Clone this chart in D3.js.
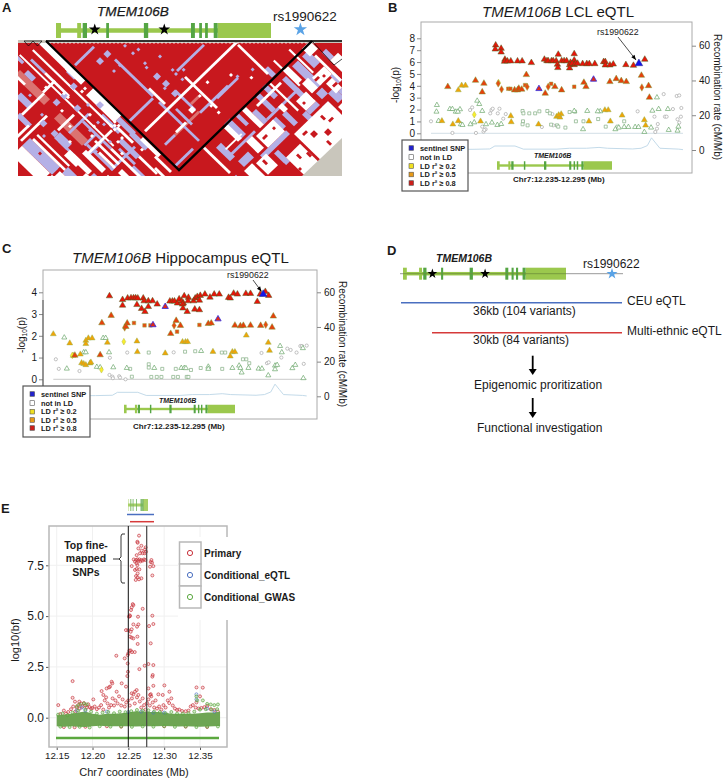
<!DOCTYPE html>
<html><head><meta charset="utf-8">
<script src="https://cdnjs.cloudflare.com/ajax/libs/d3/7.8.5/d3.min.js"></script>
<style>html,body{margin:0;padding:0;background:#fff}svg{display:block}text{font-family:"Liberation Sans",Arial,sans-serif;fill:#1a1a1a}</style>
</head><body><div id="c"></div>
<script>
// ---------- gene model (kb from gene start)
const geneLength = 27.4;
const lightExons = [[0,.64],[2.7,3.2],[20.6,27.4]];
const darkExons = [[3.4,3.95],[6.4,6.75],[11.2,11.75],[17.2,17.7],[18.25,18.6],[19,19.35],[20.1,20.6]];
const geneStars = [4.94,13.8];
const rsPos = 31.15;
// ---------- panel A: LD matrix, rectangles in SNP index space [i0,i1,j0,j1]
const ldPale = [[-17,-14,1,16],[-18,-15,22,36],[8,20,56,57],[20,24,52,53]];
const ldLavender = [[1,10.5,13,14],[12,13,22,41],[0,12,41,42],[12,13,44,64],[25,38.5,40,41],[3,8,56,57],[20,34,56.5,57.5],[28,38.5,57,58],[19,20,45,55],[14.5,15.5,50,58],[0.2,9,64,65],
 [-22,-19.5,7,13],[-12,-10.8,-4,0],[-3,-2,13,17],[-33,-29,21,36],[-23,-20,27,33],[-8,-6,44,53],[-14,-12,3,7],[-6,-4.5,33,42],[-3,-1,38,46],[-12,-11,30,44],[-27,-25,12,18],[-17,-16,37,50],[-10,-9,46,54],
 [-18,-8,29,30],[-23,-22,29,36],[-17.3,-11.5,36,37],[-3.5,-1.5,45,53],[-17,-5,49,50],[-19,-12,39.5,40.5],[-30,-27,38,46],[-9,-8,1,8],[-26,-23,4,8],[-31,-28,10,14],[-24,-22,46,52],[-12,-10,54,60],
 [55,58,68,80],[49,51,69,81],[24,37,83,85],[23,26,66,74],[28,29.5,67,72],[15,17.5,70,77],[57,60,84,89],[38,40,67,75],[60,63,68,74],[33,35,70,76],[40,42,78,84],[17,22,79,82],[28,30,86,92],[62,64,80,84],[45,47,83,90],[52,55,86,90],
 [35,51,75,76],[17,29,75,76],[47,49,62,66],[42,44,66,72],[36,38,77,82],[47,52,83,85],[54,57,81,84],[60,64,86,92],[10,13,82,88],[66,68,72,76]];
const ldWhite = [[-2.5,0,-2,14],[-2.5,0,12,20],[-4,0,24,38],[-6,-5.2,-1,39],[-10.5,-9.8,-3,44],[-14,-8,12,13],[-25,-14,12.5,13.5],[-32,-19,19,20],[-38,-33,21,35],[-29,-28,22,38],[-2,-.5,49,58],[-5,-4,40,48],[-14,-13,38,50],[-20,-18,38,48],[-25,-22,34,40],[-34,-30,37,42],
 [-20,-12,25.5,26.5],[-32,-26,17,18],[-26.8,-26,22,38],[-19,-6.5,39,40],[-16,-15,42,50],[-3,-2,57,65],[-24,-22,36,45],[-12,-11,44,60],[-7,-6,53,62],[-30,-24,44,50],[-36,-33,36,46],[-20,-19,50,58],[-16,-14,52,60],[-6,-5,60,66],[-9,-8,8,20],[-17,-16,2,6],
 [1.5,48,47.5,48.5],[46.5,47.5,49,64],[9,14,55.5,56.5],[13,14,38,46],[25,26,44,60],[51.5,52.3,62,75],[58.2,59,63,75],[63,64,71,84],[36,48,69,70],[17,25,72.5,73.2],
 [11.5,12.5,67,80],[44.7,45.5,67,81],[28,36.5,77,83],[57,63,76,80],[47,52,78,83],[38,55,86,100],[21,26,84,90],[31,33,67,76],[52,54,67,74],[59,62,81,86],[24,27,76,82],[62,66,66,70],[16,20,83,90],[66,70,76,100],[56,60,90,100],[30,37,90,100],[22,24,67,74],[53,56,75,80],[41,43,75,78]];
const ldRedPatches = [[42,44,90,92],[46,48,93,95],[49,50,88,90],[33,34,92,94],[60,61,78,79],[52,53,80,82],[27,28,91,93],[30,31,96,97],[-30,-29,36,38],[-31,-30,27,28],[55,57,92,94],[40,42,88,89],[50,52,91,92],[44,45,96,98],[36,37,94,96],[23,24,85,87],[48,49,80,81],[57,59,77,78],[60,62,83,84],[34,35,79,80],[29,31,79,80]];
const ldLavCells = [[24.5,32.5,1],[19,30.5,1],[18.3,32,1],[18.6,36.9,2],[19,41,2],[18.75,45.75,2],[8.3,18.7,2],[12,18.7,2],[9.25,24.75,1],[12.25,24.75,1],[18.5,21,1],[20.9,25.3,1],[18.6,24.9,1],[24.2,39.1,1],[27,41.8,1],[24.2,44,1],[24,41,1],[17.5,41.9,1],[44.3,59,1],[38.75,57,1],[-13.2,18.5,2],[-9.6,18.75,2],[-4.75,18.6,2],[-9.5,25.2,2],[-21.9,20.6,2],[-21.7,26,2],[-21.5,31,2],[-6,27,1],[-8,34,1],[-12,34,1],[-3,30,2],[-16,41,1],[-10,42,1],[-7,36,1],[-25,24,1],[-18,10,1],[-20,18,1]];
const ldWhiteCells = [[24.3,52.6,1],[24.75,61.6,1],[41.9,60.8,1],[37.5,55,1],[24.6,58,1],[18.75,54.3,2],[29.75,51,1],[-4.6,39,1],[-5.6,40,1],[-3.6,40,1],[-5.6,38,1],[-3.6,38,1],[-9,18,1],[-9,20,1],[-12,12,1],[-2.5,22,1],[-4,22,1],[-8,30,1],[-10,34,1],[-13,36,1],[-6,44,1],[-8,44,1],[-10,48,1],[-4,52,1],[-20,32,1],[-14,22,1],[-16,28,1]];
// ---------- panel B: (kb from 12.235 Mb, -log10 p)
const bRedTri = [[15.4,7.42],[15.3,7.08],[16.7,7.14],[16.7,6.83],[17.6,6.22],[17.5,6.05],[18.2,6.08],[19,6.08],[20.6,6.08],[21.7,6.08],[23.9,5.94],[27,6.22],[27.6,6.1],[27.9,6.1],[28.7,6.1],[29.1,6.1],[29.8,6.1],[30.3,6.64],[30.1,5.8],[30.2,5.52],[31.1,6.1],[31.7,6.1],[32.3,6.1],[33.2,5.96],[34.1,6.69],[34.1,6.16],[33,5.77],[33,5.49],[34.1,5.77],[33.6,5.88],[34.4,5.88],[34.9,5.88],[36.1,5.85],[37.1,5.85],[37.7,5.85],[39,5.85],[41.1,6.02],[41.5,6.02],[41.5,5.74],[42.6,5.74],[43.4,5.82],[46.4,5.77],[48.2,5.71],[50.9,6.22]];
const bSentinel = [[49.5,5.88]];
const bMidTri = [[22.7,4.93],[4,3.92],[10.6,4.45],[12.6,4.2],[12.2,3.47],[19.9,3.64],[20.6,3.64],[20.9,3.78],[21.6,3.7],[29.5,3.92],[27.2,3.36],[31.1,3.64],[36.4,4.28],[36.9,3.92],[42.6,4.34],[44.1,4.59],[45.3,4.42],[46.5,4.34],[50.1,4.87],[51.8,4],[52,3.02]];
const bMidSquare = [[18.4,3.75],[18.9,3.75],[22.4,4.06],[28.6,4.17],[34.1,3.92]];
const bMidDiamond = [[16,4.2],[16.8,3.7],[27.9,3.92],[50.2,3.86],[22.9,3.92]];
const bBlueTri = [[25.7,3.75],[38.7,4.54]];
const bAmberTri = [[6.5,3.64],[7.3,4.03],[8.2,4.03],[2.6,1.04],[5.2,.76],[6.5,1.04],[11.8,1.01],[19,1.46],[19.1,.95],[25.6,.76],[31,1.62],[29.9,1.4],[30.7,1.34],[30.4,1.54],[37.6,1.01],[41.4,1.96],[42.2,1.96],[45.5,1.51],[42.7,1.01],[50.8,1.12],[51.1,.67]];
const bYellow = [[10.3,1.57],[16.1,4.26]];
const bOpenTri = [[1.4,2.38],[1.3,1.82],[1.8,1.04],[11,2.74],[11.5,2.46],[12.2,1.88],[4.5,2.04],[5.1,2.04],[5.9,1.82],[6.9,2.02],[6.4,1.82],[7.1,.76],[7.5,.7],[9.4,.76],[10.3,.92],[13.1,.76],[14.5,.9],[15.8,.7],[16.7,.78],[37.2,1.88],[34.1,1.88],[40.3,1.85],[39.7,1.85],[36.2,.34],[43.9,.34],[44.7,.48],[46,.53],[47,.53],[48.6,.53],[49.4,.53],[52.7,1.9],[54.2,2.04],[56.4,2.04],[53.8,3.02],[52.4,.48],[56.6,.28],[58.7,.22],[58.9,.56],[50.8,.11]];
const bOpenSquare = [[21.8,1.88],[22,1.68],[23.4,1.68],[24.8,1.68],[25.8,1.85],[27.7,1.88],[28.3,1.68],[33,1.79],[34.3,1.82],[21.9,1.01],[21.8,.76],[23,.67],[30,.67],[30.3,.56],[32,.48],[34.5,1.01],[36.3,1.01],[39.8,1.2],[41.6,.56],[44.4,.56],[46,1.01],[28.6,.73]];
const bGrey = [[0,1.01],[5.1,.03],[10.7,.03],[9.3,1.96],[9.8,2.18],[14.4,1.96],[14.7,2.07],[14.1,1.68],[16.3,2.07],[15.9,1.68],[17.8,1.62],[17.2,1.23],[12.2,.56],[13,.34],[12.5,.14],[12.7,.28],[26.4,.53],[29.1,.67],[28.9,1.62],[49.2,1.85],[53.2,1.4],[55.7,1.4],[56.1,1.4],[57.6,2.04],[55.4,3.3],[58.5,3.14],[59.1,3.19],[59.6,2.13],[54,.78],[53.8,.39],[53.4,.11],[59.1,.9],[58.7,1.18],[59.5,1.4]];
// ---------- panel C
const cRedTri = [[13.3,3.83],[16.4,3.66],[16.4,3.4],[17.6,3.73],[18.4,3.74],[19,3.74],[19.5,3.74],[20,3.73],[21.3,3.73],[21.5,3.6],[22.5,3.6],[23.5,3.6],[19.8,3.43],[22.5,3.34],[20.9,3.25],[21.7,3.11],[24.6,3.45],[27.6,3.59],[28.2,3.59],[28.7,3.59],[29.4,3.5],[29.8,3.69],[30.4,3.59],[31,3.83],[32,3.76],[30.8,3.5],[31.9,3.6],[33.2,3.6],[33.6,3.73],[34.1,3.8],[34.8,3.85],[35.9,3.91],[34.6,3.63],[30.6,3.45],[30.7,3.27],[31.7,3.11],[33.5,3.22],[34.6,3.19],[37.1,3.77],[38.1,3.91],[39.3,3.91],[41.5,3.76],[41.9,3.73],[42.7,3.95],[43.6,3.91],[45.6,3.94],[46.7,3.94],[48.3,3.57],[50.2,4.03],[51,3.85],[49,3.91]];
const cSentinel = [[49.7,3.91]];
const cBlueTri = [[26.5,3.34],[39,2.77],[23.6,2.5]];
const cMidTri = [[11.5,2.59],[13.7,2.93],[5.1,1.1],[11.1,1.12],[17.5,2.58],[17.2,2.42],[29.1,2.7],[30.1,2.47],[27.8,2.1],[43,2.48],[44.3,2.45],[45,2.47],[46.7,2.48],[49.1,2.47],[51.8,2.39],[52.1,2.9],[36.7,2.56],[37.4,2.58]];
const cMidSquare = [[19.1,2.59],[21.6,2.48],[23,2.48],[34.6,2.5],[29.3,2.19]];
const cMidDiamond = [[28.6,2.47],[50.3,2.51],[16.9,2.38]];
const cAmberTri = [[0,2.08],[3.9,1.66],[8.3,1.89],[9.2,1.89],[7.7,1.78],[7.7,1.63],[12.8,1.69],[19.8,1.75],[30.6,1.72],[31.3,1.72],[31.8,1.72],[45.7,2.02],[50.9,1.69],[51.2,1.32],[19.9,1.26],[26.5,1.2],[37.8,1.27],[42.4,1.26],[43,1.26],[41.9,1.06],[6.4,1.15],[4.7,1.09],[6.7,.75],[7.2,.71],[7.7,.66],[8.7,.74],[8.9,.78]];
const cYellow = [[16.7,1.73],[11.4,.44],[4.5,1.1]];
const cOpenTri = [[2.6,1.92],[11.8,1.9],[12.4,1.9],[7.2,1.24],[7.7,1.24],[13.2,1.24],[3.2,.49],[10.3,.57],[11.1,.55],[14.2,.55],[17.4,.52],[23.9,.52],[30.3,.52],[31,.52],[31.4,.51],[35,1.3],[36.7,.58],[36.7,.48],[42.4,.52],[44,.63],[44.3,.52],[44.6,.31],[46.2,.52],[48.6,.49],[49.4,.49],[52.5,.63],[52.5,.46],[53,.66],[54.1,1.24],[53.7,1.53],[59.1,1.43],[56.6,.51],[57.3,.66],[50.9,.18],[59.2,.05]];
const cOpenSquare = [[22.6,1.23],[31.2,1.27],[33.6,1.29],[39.9,1.23],[40.7,1.23],[25.8,.48],[22.6,.69],[22.6,.54],[32.6,.43],[34.9,.52],[40,.48],[23.2,.11],[24.5,.11],[25.6,.11],[28.4,.11],[29.5,.11],[31.6,.11],[32,.11],[18.2,.48],[18.6,.12],[29,.48],[44.9,.92],[45.7,.92],[46.4,.74]];
const cGrey = [[.6,.92],[1.3,.48],[6.2,.38],[13.4,.99],[13.3,.2],[14,.12],[14.1,.05],[15.6,.14],[15.8,.08],[17.1,0],[17.5,1.23],[28.5,1.24],[49.3,1.21],[50.6,.74],[51,.78],[54,1],[55.4,1.41],[56.2,1.35],[57.6,1.23],[58.5,1.53],[58.9,1.53],[60,1.55],[59.3,.71]];
// recombination rate (kb, cM/Mb)
const recomb = [[0,.2],[10,.4],[14,.6],[15.2,2.3],[20,2.3],[22,.5],[30,.5],[33,1],[37,1],[40,1.5],[42,1],[48,.6],[50,1],[51.5,2.5],[52.5,7],[53.5,4],[54.5,1],[59,.5],[60,.2]];
const legendLabels = ["sentinel SNP","not in LD","LD r² ≥ 0.2","LD r² ≥ 0.5","LD r² ≥ 0.8"];
const legendFills = ["#2222cc","#ffffff","#f0e020","#e89a18","#cc1f1a"];
// ---------- panel E: (Mb, log10 bf)
const ePeak = [[12.2649,8.96],[12.2626,8.66],[12.263,8.61],[12.2682,8.46],[12.264,8.33],[12.2686,8.22],[12.2733,8.28],[12.2742,8.38],[12.2663,8.09],[12.27,8.09],[12.2728,8.09],[12.2747,8.17],[12.2616,8],[12.2575,7.79],[12.2607,7.76],[12.2626,7.79],[12.264,7.73],[12.2654,7.79],[12.2668,7.69],[12.2682,7.76],[12.27,7.73],[12.2719,7.79],[12.2738,7.76],[12.2593,7.68],[12.2616,7.6],[12.2626,7.51],[12.2547,7.46],[12.2593,7.27],[12.2616,7.32],[12.2654,7.3],[12.263,7.1],[12.2607,6.97],[12.263,6.91],[12.2682,6.86],[12.2603,6.78],[12.2649,6.81],[12.2822,7.76],[12.2812,7.66],[12.2831,7.63],[12.2803,7.43],[12.2849,7.46],[12.2835,7],
 [12.2561,5.59],[12.257,5.54],[12.2547,5.43],[12.2537,5.3],[12.27,5.36],[12.2519,5.04],[12.2509,4.97],[12.2523,5],[12.2835,5.02],[12.2635,4.97],[12.2849,4.61],[12.257,4.59],[12.264,4.59],[12.2621,4.48],[12.2789,4.51],[12.2467,4.31],[12.25,4.31],[12.2533,4.23],[12.2547,4.35],[12.2626,3.99],[12.2547,3.94],[12.257,3.9],[12.2523,3.99],[12.263,3.63],[12.2812,3.66],[12.2514,3.3],[12.2533,3.31],[12.2551,3.23],[12.2589,3.23],[12.2332,3.05],[12.2449,2.92],[12.2491,3.08],[12.25,3.17],[12.278,2.64],[12.2849,2.59],[12.2728,2.56],[12.2654,2.39],[12.2491,2.67],[12.284,2.1],[12.2835,2.02],[12.2495,2.26],[12.2486,2.05],[12.1722,1.8],[12.3003,1.59],[12.2849,1.57],[12.3451,1.49],[12.3539,1.48],[12.2127,1.31],[12.2197,1.44],[12.2244,1.53],[12.2267,1.77],[12.2276,1.69],[12.223,1.49],[12.2407,1.69],[12.2467,1.53],[12.2616,1.36],[12.278,1.44],[12.2812,1.16],[12.2803,1.12],[12.3073,1.28],[12.2919,1.15],[12.298,1.12],[12.2593,1.28],[12.2547,1.2],[12.2337,1.28],[12.2151,1.12],[12.2011,.9],[12.1522,.62],[12.1722,.98],[12.1755,.79],[12.1815,.79]];
const eRedLow = [[12.155,.18],[12.16,.35],[12.163,.2],[12.166,.28],[12.17,.42],[12.173,.55],[12.176,.3],[12.178,.5],[12.18,.62],[12.182,.45],[12.184,.7],[12.186,.55],[12.188,.72],[12.19,.6],[12.192,.5],[12.194,.66],[12.196,.52],[12.198,.45],[12.2,.48],[12.203,.55],[12.206,.42],[12.209,.5],[12.212,.62],[12.215,.4],[12.217,.85],[12.219,1],[12.221,.7],[12.223,.5],[12.226,.62],[12.228,.95],[12.23,.6],[12.232,.85],[12.235,.7],[12.237,1.05],[12.24,.6],[12.242,.9],[12.245,.55],[12.247,.75],[12.25,.85],[12.252,.6],[12.255,.95],[12.257,1.15],[12.259,.7],[12.262,1],[12.264,1.12],[12.266,.8],[12.268,.5],[12.27,.95],[12.272,.62],[12.274,.4],[12.276,.72],[12.278,.9],[12.28,.6],[12.282,1.05],[12.284,.75],[12.286,.5],[12.288,.85],[12.29,.45],[12.293,.55],[12.296,.4],[12.299,.62],[12.302,.5],[12.305,.85],[12.307,.72],[12.31,.95],[12.312,.6],[12.315,.45],[12.318,.38],[12.321,.4],[12.325,.33],[12.33,.32],[12.334,.35],[12.337,.55],[12.34,.62],[12.344,.5],[12.348,.45],[12.352,.48],[12.356,.52],[12.36,.58],[12.365,.42],[12.37,.38],[12.375,.3],[12.345,.75],[12.35,1.05],
 [12.16,-.46],[12.175,-.47],[12.19,-.45],[12.22,-.42],[12.24,-.44],[12.3,-.42],[12.33,-.44],[12.36,-.46]];
const eBlue = [[12.185,.5],[12.19,.35],[12.25,.28],[12.268,.3],[12.285,.25],[12.3,.25],[12.345,1.15],[12.345,.9],[12.37,.3],[12.36,.45],[12.22,.3],[12.178,.35]];
const eGreen = [[12.345,1.05],[12.346,.85],[12.354,.85],[12.36,.68],[12.365,.65],[12.37,.62],[12.375,.65],[12.178,.55],[12.182,.65],[12.188,.7],[12.192,.65],[12.152,.15],[12.158,.2],[12.165,.12],[12.172,.25],[12.18,.35],[12.19,.4],[12.198,.3],[12.206,.2],[12.214,.25],[12.222,.28],[12.23,.22],[12.238,.3],[12.246,.27],[12.254,.32],[12.262,.38],[12.27,.35],[12.278,.36],[12.286,.3],[12.294,.28],[12.302,.22],[12.31,.28],[12.318,.2],[12.326,.2],[12.334,.22],[12.342,.3],[12.35,.4],[12.358,.42],[12.366,.4],[12.374,.42],[12.155,-.44],[12.168,-.46],[12.182,-.45],[12.196,-.48],[12.21,-.42],[12.225,-.44],[12.24,-.43],[12.255,-.45],[12.27,-.43],[12.285,-.44],[12.3,-.42],[12.315,-.45],[12.33,-.43],[12.345,-.46],[12.36,-.44],[12.375,-.43]];
const bandMb = [12.15,12.16,12.17,12.18,12.19,12.2,12.21,12.22,12.23,12.24,12.25,12.26,12.27,12.28,12.29,12.3,12.31,12.32,12.33,12.34,12.35,12.36,12.37,12.378];
const bandTop = [.12,.15,.2,.25,.3,.2,.15,.2,.2,.22,.25,.32,.3,.28,.28,.25,.2,.2,.2,.2,.22,.25,.25,.3];
const bandBottom = [-.42,-.44,-.42,-.45,-.46,-.42,-.4,-.42,-.42,-.42,-.42,-.43,-.42,-.42,-.42,-.41,-.42,-.43,-.42,-.43,-.44,-.43,-.42,-.41];
const eLegend = [["Primary","#c8323c"],["Conditional_eQTL","#4a6fc0"],["Conditional_GWAS","#5ba83f"]];

// ---------- drawing
const svg = d3.select("#c").append("svg").attr("width",723).attr("height",780);
const FONT = '"Liberation Sans",Arial,sans-serif';
function T(g,x,y,s,o={}){const t=g.append("text").attr("x",x).attr("y",y).attr("font-size",o.size||10).text(s);
  if(o.bold)t.attr("font-weight","bold"); if(o.italic)t.attr("font-style","italic"); if(o.anchor)t.attr("text-anchor",o.anchor); if(o.rotate!==undefined)t.attr("transform",`rotate(${o.rotate} ${x} ${y})`); return t;}
const LIGHT="#9bc84d",DARK="#55a544";
function gene(g,x0,x1,yMid,barH,exH){
  const s=d3.scaleLinear([0,geneLength],[x0,x1]);
  g.append("rect").attr("x",s(0)).attr("y",yMid-barH/2).attr("width",s(geneLength)-s(0)).attr("height",barH).attr("fill",LIGHT);
  g.selectAll(null).data(lightExons).join("rect").attr("x",d=>s(d[0])).attr("width",d=>s(d[1])-s(d[0])).attr("y",yMid-exH/2).attr("height",exH).attr("fill",LIGHT);
  g.selectAll(null).data(darkExons).join("rect").attr("x",d=>s(d[0])).attr("width",d=>Math.max(s(d[1])-s(d[0]),.8)).attr("y",yMid-exH/2).attr("height",exH).attr("fill",DARK);
  return s;
}
function star(g,x,y,size,fill){g.append("path").attr("d",d3.symbol(d3.symbolStar,size)()).attr("transform",`translate(${x},${y})`).attr("fill",fill);}

// panel labels
[["A",2,12],["B",388,12],["C",2,253],["D",387,255],["E",1,513]].forEach(d=>T(svg,d[1],d[2],d[0],{size:13,bold:true}));

// ===== panel A
(function(){
  const clip=svg.append("clipPath").attr("id","clipA");clip.append("rect").attr("x",18).attr("y",43).attr("width",324).attr("height",133);
  const m=svg.append("g").attr("clip-path","url(#clipA)");
  m.append("rect").attr("x",18).attr("y",43).attr("width",324).attr("height",133).attr("fill","#c8181e");
  const sx=d3.scaleLinear([0,133],[46,312]),sy=d3.scaleLinear([0,66.5],[41,170]);
  const pt=(i,j)=>[sx(i+j),sy(j-i)].join(",");
  const rectPath=d=>`M${pt(d[0],d[2])}L${pt(d[1],d[2])}L${pt(d[1],d[3])}L${pt(d[0],d[3])}Z`;
  const cell=d=>{const h=d[2]/2;return rectPath([d[0]-h,d[0]+h,d[1]-h,d[1]+h]);};
  m.selectAll(null).data(ldPale).join("path").attr("d",rectPath).attr("fill","#e08b86").attr("opacity",.8);
  m.selectAll(null).data(ldLavender).join("path").attr("d",rectPath).attr("fill","#b4b0e6");
  m.selectAll(null).data(ldWhite).join("path").attr("d",rectPath).attr("fill","#fff");
  m.selectAll(null).data(ldRedPatches).join("path").attr("d",rectPath).attr("fill","#c8181e");
  m.selectAll(null).data(ldLavCells).join("path").attr("d",cell).attr("fill","#b4b0e6");
  m.selectAll(null).data(ldWhiteCells).join("path").attr("d",cell).attr("fill","#fff");
  const g=svg.append("g");
  const gs=gene(g,56,271,30.5,4.5,15);
  geneStars.forEach(k=>star(g,gs(k),29.5,42,"#000"));
  star(g,gs(rsPos),29.5,55,"#5aa3e6");
  T(g,97,15.5,"TMEM106B",{size:13.6,italic:true}).attr("stroke","#1a1a1a").attr("stroke-width",.25);
  T(g,273,20.7,"rs1990622",{size:13.5});
  g.append("path").attr("d","M302,176L342,138L342,176Z").attr("fill","#c9c6bc");
  g.append("rect").attr("x",18).attr("y",40).attr("width",324).attr("height",3).attr("fill","#c9c6bc");
  g.selectAll(null).data(d3.range(0,68)).join("circle").attr("cx",d=>sx(2*d)).attr("cy",43).attr("r",.7).attr("fill","#fff");
  g.append("path").attr("d","M46,41L179,170L312,41").attr("fill","none").attr("stroke","#000").attr("stroke-width",2.4).attr("stroke-linejoin","miter");
  g.append("path").attr("d","M46,41L342,41").attr("stroke","#000").attr("stroke-width",1.5);
  g.append("path").attr("d","M312,41L334,65L342,59").attr("fill","none").attr("stroke","#000").attr("stroke-width",.7);
  g.append("path").attr("d","M24,41L28.5,46L33,41L37.5,46L42,41Z").attr("fill","none").attr("stroke","#000").attr("stroke-width",.7);
})();

// ===== eQTL panels
const sym={tri:d3.symbolTriangle,sq:d3.symbolSquare,dia:d3.symbolDiamond,cir:d3.symbolCircle};
function pts(g,x,y,data,type,size,fill,stroke,sw){
  g.selectAll(null).data(data).join("path").attr("d",d3.symbol(sym[type],size)())
    .attr("transform",d=>`translate(${x(d[0])},${y(d[1])})`).attr("fill",fill).attr("stroke",stroke).attr("stroke-width",sw);
}
function eqtl(o){
  const g=svg.append("g");
  const x=d3.scaleLinear([0,60],o.xr), y=d3.scaleLinear([0,o.yMax],o.yr), r=d3.scaleLinear([0,60],o.rr);
  g.append("rect").attr("x",o.box[0]).attr("y",o.box[1]).attr("width",o.box[2]-o.box[0]).attr("height",o.box[3]-o.box[1]).attr("fill","#fff").attr("stroke","#aaa").attr("stroke-width",1);
  const la=d3.axisLeft(y).tickValues(d3.range(0,o.yMax+1)).tickFormat(d3.format("d")).tickSize(4).tickPadding(2);
  const lg=g.append("g").attr("transform",`translate(${o.box[0]},0)`).call(la);
  const ra=d3.axisRight(r).tickValues([0,20,40,60]).tickSize(4).tickPadding(3);
  const rg=g.append("g").attr("transform",`translate(${o.box[2]},0)`).call(ra);
  [lg,rg].forEach(a=>{a.select(".domain").remove();a.selectAll("line").attr("stroke","#888");a.selectAll("text").attr("font-size",10).attr("font-family",FONT).attr("fill","#1a1a1a");});
  g.append("line").attr("x1",o.xr[0]).attr("x2",o.xr[1]).attr("y1",y(0)).attr("y2",y(0)).attr("stroke",o.zero).attr("stroke-width",.8);
  g.append("path").attr("d",d3.line().x(d=>x(d[0])).y(d=>r(d[1]))(recomb)).attr("fill","none").attr("stroke","#bcd6e6").attr("stroke-width",.9);
  const d=o.d;
  pts(g,x,y,d.grey,"cir",8,"#fff","#a8a8a8",.7);
  pts(g,x,y,d.osq,"sq",9,"#fff","#82ad82",.7);
  pts(g,x,y,d.otri,"tri",11,"#fff","#6aa66a",.7);
  pts(g,x,y,d.amber,"tri",15,"#f0a408","#8fb04c",.45);
  pts(g,x,y,d.yellow,"dia",13,"#f7ee2c","#b8bc50",.5);
  pts(g,x,y,d.midS,"sq",13,"#e44e12","#8fb04c",.45);
  pts(g,x,y,d.midD,"dia",16,"#e44e12","#8fb04c",.45);
  pts(g,x,y,d.midT,"tri",18,"#e6400c","#6f9c34",.45);
  pts(g,x,y,d.red,"tri",18,"#e8140a","#3f5e18",.45);
  pts(g,x,y,d.blue,"tri",17,"#e02a14","#2e2ee8",.8);
  pts(g,x,y,d.sent,"tri",26,"#1414e8","#303090",.5);
  T(g,o.rs[0],o.rs[1],"rs1990622",{size:8.8});
  g.append("line").attr("x1",o.arrow[0]).attr("y1",o.arrow[1]).attr("x2",o.arrow[2]).attr("y2",o.arrow[3]).attr("stroke","#000").attr("stroke-width",.7);
  const ang=Math.atan2(o.arrow[3]-o.arrow[1],o.arrow[2]-o.arrow[0])*180/Math.PI;
  g.append("path").attr("d","M0,0L-5,-2L-5,2Z").attr("transform",`translate(${o.arrow[2]},${o.arrow[3]}) rotate(${ang})`).attr("fill","#000");
  gene(g,o.gene[0],o.gene[1],o.gene[2],2.4,8.5);
  T(g,o.gt[0],o.gt[1],"TMEM106B",{size:7,bold:true,italic:true});
  T(g,o.cx[0],o.cx[1],"Chr7:12.235-12.295 (Mb)",{size:8,bold:true});
  const t=T(g,o.title[0],o.title[1],"",{size:15});
  t.append("tspan").attr("font-style","italic").text("TMEM106B");t.append("tspan").text(" "+o.name);
  const yl=g.append("text").attr("transform",`translate(${o.yl[0]},${o.yl[1]}) rotate(-90)`).attr("text-anchor","middle").attr("font-size",10);
  yl.append("tspan").text("-log");yl.append("tspan").attr("font-size",6.5).attr("dy",2).text("10");yl.append("tspan").attr("dy",-2).text("(p)");
  T(g,o.rl[0],o.rl[1],"Recombination rate (cM/Mb)",{size:10,anchor:"middle",rotate:90});
  const L=o.leg;
  g.append("rect").attr("x",L[0]).attr("y",L[1]).attr("width",L[2]-L[0]).attr("height",L[3]-L[1]).attr("fill","#fff").attr("stroke","#555").attr("stroke-width",1.2);
  legendLabels.forEach((s,i)=>{const yy=o.legY[i];
    g.append("rect").attr("x",L[0]+7).attr("y",yy-2.3).attr("width",4.6).attr("height",4.6).attr("fill",legendFills[i]).attr("stroke","#555").attr("stroke-width",.6);
    T(g,L[0]+18,yy+2.5,s,{size:7.4,bold:true}).attr("fill","#333");});
}
eqtl({xr:[431,683],yMax:8,yr:[133.3,38.3],rr:[150,45.7],box:[421,22,692,173],zero:"#c6d6e0",
 d:{grey:bGrey,osq:bOpenSquare,otri:bOpenTri,amber:bAmberTri,yellow:bYellow,midS:bMidSquare,midD:bMidDiamond,midT:bMidTri,red:bRedTri,blue:bBlueTri,sent:bSentinel},
 rs:[597,35],arrow:[618,37,636,60],gene:[497,612,165.5],gt:[534,158],cx:[513,181.7],title:[482,16.7],name:"LCL eQTL",yl:[399,85],rl:[714,97],leg:[402,140,468,191],legY:[148,157,166,174.5,183]});
eqtl({xr:[53.3,306.7],yMax:4,yr:[379.3,292.3],rr:[396.3,292.3],box:[43,270,317,419],zero:"#bdbdbd",
 d:{grey:cGrey,osq:cOpenSquare,otri:cOpenTri,amber:cAmberTri,yellow:cYellow,midS:cMidSquare,midD:cMidDiamond,midT:cMidTri,red:cRedTri,blue:cBlueTri,sent:cSentinel},
 rs:[227,278.3],arrow:[253,280,261.5,291.5],gene:[124,235,409],gt:[159,403],cx:[133,429],title:[72,262.7],name:"Hippocampus eQTL",yl:[25,335],rl:[339,344],leg:[23,386,90,437],legY:[394,403,411.7,420,428]});
svg.append("line").attr("x1",43).attr("x2",43).attr("y1",300).attr("y2",386).attr("stroke","#555").attr("stroke-width",1);

// ===== panel D
(function(){
  const g=svg.append("g");
  g.append("line").attr("x1",400).attr("x2",623).attr("y1",273.7).attr("y2",273.7).attr("stroke","#999").attr("stroke-width",1);
  const s=gene(g,403,566,273.7,3.5,12);
  g.append("line").attr("x1",403).attr("x2",566).attr("y1",273.7).attr("y2",273.7).attr("stroke","#6d8f3a").attr("stroke-width",.8);
  geneStars.forEach(k=>star(g,s(k),273.7,30,"#000"));
  star(g,612,273.7,38,"#5aa3e6");
  T(g,436,262,"TMEM106B",{size:10.5,italic:true,bold:true});
  T(g,583,267.7,"rs1990622",{size:12});
  g.append("line").attr("x1",401).attr("x2",622).attr("y1",302.7).attr("y2",302.7).attr("stroke","#4a6fc0").attr("stroke-width",1.5);
  g.append("line").attr("x1",432).attr("x2",622).attr("y1",332.7).attr("y2",332.7).attr("stroke","#d63a3a").attr("stroke-width",1.5);
  T(g,627,305,"CEU eQTL",{size:12});
  T(g,627,334.5,"Multi-ethnic eQTL",{size:12});
  T(g,473,315,"36kb (104 variants)",{size:12});
  T(g,473,344,"30kb (84 variants)",{size:12});
  T(g,474,389,"Epigenomic proritization",{size:12});
  T(g,477,432,"Functional investigation",{size:12});
  [[355.7,375],[398,418]].forEach(a=>{
    g.append("line").attr("x1",532.7).attr("x2",532.7).attr("y1",a[0]).attr("y2",a[1]-3).attr("stroke","#000").attr("stroke-width",1.8);
    g.append("path").attr("d",`M${528.7},${a[1]-6}L536.7,${a[1]-6}L532.7,${a[1]}Z`).attr("fill","#000");
  });
})();

// ===== panel E
(function(){
  const g=svg.append("g");
  const x=d3.scaleLinear([12.15,12.35],[56.7,200]), y=d3.scaleLinear([0,7.5],[717.7,565.3]);
  const B=[49,526,227,747];
  const eg=g.append("g").attr("opacity",.85); gene(eg,128,148,505,3,12);
  g.append("line").attr("x1",127).attr("x2",154).attr("y1",514.5).attr("y2",514.5).attr("stroke","#4a6fc0").attr("stroke-width",1.5);
  g.append("line").attr("x1",130).attr("x2",154).attr("y1",521.7).attr("y2",521.7).attr("stroke","#d63a3a").attr("stroke-width",1.5);
  [12.15,12.2,12.25,12.3,12.35].forEach(v=>g.append("line").attr("x1",x(v)).attr("x2",x(v)).attr("y1",B[1]).attr("y2",B[3]).attr("stroke","#f0f0f0"));
  [0,2.5,5,7.5].forEach(v=>g.append("line").attr("y1",y(v)).attr("y2",y(v)).attr("x1",B[0]).attr("x2",B[2]).attr("stroke","#f0f0f0"));
  const xa=d3.axisBottom(x).tickValues([12.15,12.2,12.25,12.3,12.35]).tickFormat(d3.format(".2f")).tickSize(3).tickPadding(2);
  const ya=d3.axisLeft(y).tickValues([0,2.5,5,7.5]).tickFormat(d3.format(".1f")).tickSize(3).tickPadding(2);
  const ax=g.append("g").attr("transform",`translate(0,${B[3]})`).call(xa), ay=g.append("g").attr("transform",`translate(${B[0]},0)`).call(ya);
  [ax,ay].forEach(a=>{a.select(".domain").remove();a.selectAll("line").attr("stroke","#555");a.selectAll("text").attr("font-family",FONT).attr("fill","#1a1a1a");});
  ax.selectAll("text").attr("font-size",9.8); ay.selectAll("text").attr("font-size",12);
  const ring=(data,c,f)=>g.selectAll(null).data(data).join("circle").attr("cx",d=>x(d[0])).attr("cy",d=>y(d[1])).attr("r",1.5).attr("fill",f).attr("stroke",c).attr("stroke-width",.8).attr("stroke-opacity",.85);
  ring(eRedLow,"#c8323c","rgba(220,130,130,.25)");
  ring(ePeak,"#c8323c","rgba(220,130,130,.25)");
  g.append("path").attr("d",d3.area().x((d,i)=>x(bandMb[i])).y0((d,i)=>y(bandBottom[i])).y1((d,i)=>y(bandTop[i]))(bandMb)).attr("fill","#6ea553");
  ring(eBlue,"#4a6fc0","none");
  ring(eGreen,"#5ba83f","rgba(120,180,90,.3)");
  g.append("line").attr("x1",56).attr("x2",219).attr("y1",y(-1)).attr("y2",y(-1)).attr("stroke","#5ba83f").attr("stroke-width",2.5);
  g.append("rect").attr("x",B[0]).attr("y",B[1]).attr("width",B[2]-B[0]).attr("height",B[3]-B[1]).attr("fill","none").attr("stroke","#b8b8b8").attr("stroke-width",1.5);
  g.append("line").attr("x1",128.3).attr("x2",128.3).attr("y1",B[1]).attr("y2",B[3]).attr("stroke","#111").attr("stroke-width",1);
  g.append("line").attr("x1",146.7).attr("x2",146.7).attr("y1",B[1]).attr("y2",B[3]).attr("stroke","#444").attr("stroke-width",1.2);
  g.append("rect").attr("x",178).attr("y",537).attr("width",125).attr("height",83).attr("fill","#fff");
  eLegend.forEach((d,i)=>{const yy=542+22*i;
    g.append("rect").attr("x",179.5).attr("y",yy).attr("width",21.5).attr("height",22).attr("fill","#fff").attr("stroke","#b8b8b8").attr("stroke-width",1.5);
    g.append("circle").attr("cx",190).attr("cy",yy+11).attr("r",2.6).attr("fill","none").attr("stroke",d[1]).attr("stroke-width",1);
    T(g,204,yy+15,d[0],{size:10,bold:true});});
  ["Top fine-","mapped","SNPs"].forEach((s,i)=>T(g,86,549+13.3*i,s,{size:10.5,bold:true,anchor:"middle"}));
  g.append("path").attr("d","M125,534L122,534L121,536L121,557L119,559L113,559M119,559L121,561L121,581L122,583L125,583").attr("fill","none").attr("stroke","#222").attr("stroke-width",.9);
  T(g,134,776,"Chr7 coordinates (Mb)",{size:11,anchor:"middle"});
  T(g,19,640,"log10(bf)",{size:11,anchor:"middle",rotate:-90});
})();
</script></body></html>
